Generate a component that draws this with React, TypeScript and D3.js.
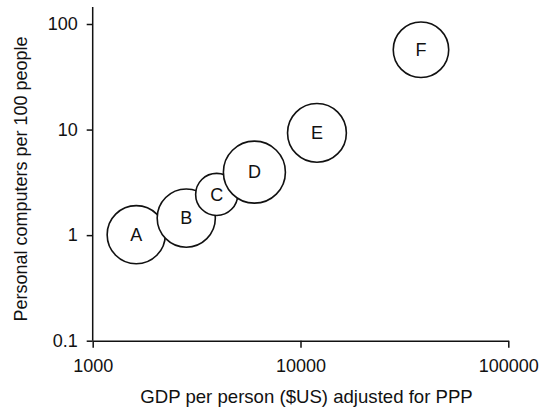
import { useEffect, useRef } from 'react'
import * as d3 from 'd3'

const labels = ['A', 'B', 'C', 'D', 'E', 'F']
const gdp = [1620, 2820, 3950, 6000, 12000, 38000]
const computers = [1.01, 1.45, 2.43, 3.95, 9.3, 57]
const sizes = [88, 88, 46, 100, 90, 80]

const xTicks = [1000, 10000, 100000]
const yTicks = [0.1, 1, 10, 100]

export default function App() {
  const ref = useRef<SVGSVGElement>(null)

  useEffect(() => {
    if (!ref.current) return
    const svg = d3.select(ref.current)
    svg.selectAll('*').remove()

    const font = 'Liberation Sans, Arial, sans-serif'

    // scales
    const x = d3.scaleLog().domain([1000, 100000]).range([92.7, 508.3])
    const y = d3.scaleLog().domain([0.1, 100]).range([340.7, 24])
    const r = d3.scaleSqrt().domain([0, 100]).range([0, 31])

    // bubbles, drawn in order so later ones sit on top
    const g = svg.append('g')
    labels.forEach((lab, i) => {
      g.append('circle')
        .attr('cx', x(gdp[i]))
        .attr('cy', y(computers[i]))
        .attr('r', r(sizes[i]))
        .attr('fill', '#fff')
        .attr('stroke', '#111')
        .attr('stroke-width', 1.6)
      g.append('text')
        .attr('x', x(gdp[i]))
        .attr('y', y(computers[i]))
        .attr('dy', '0.35em')
        .attr('text-anchor', 'middle')
        .style('font-family', font)
        .style('font-size', '18px')
        .attr('fill', '#111')
        .text(lab)
    })

    // Y axis
    const yAxis = svg
      .append('g')
      .attr('transform', `translate(${x(1000)},0)`)
      .call(
        d3.axisLeft(y)
          .tickValues(yTicks)
          .tickFormat((d) => String(d))
          .tickSize(6)
          .tickSizeOuter(0)
          .tickPadding(9)
      )
    yAxis.select('.domain').remove()
    yAxis.selectAll('line').attr('stroke', '#111').attr('stroke-width', 1.5)
    yAxis.selectAll('text')
      .style('font-family', font)
      .style('font-size', '18px')
      .attr('fill', '#111')
    svg.append('line')
      .attr('x1', x(1000)).attr('x2', x(1000))
      .attr('y1', 7).attr('y2', y(0.1))
      .attr('stroke', '#111')
      .attr('stroke-width', 1.5)

    // X axis
    const xAxis = svg
      .append('g')
      .attr('transform', `translate(0,${y(0.1)})`)
      .call(
        d3.axisBottom(x)
          .tickValues(xTicks)
          .tickFormat((d) => String(d))
          .tickSize(7)
          .tickSizeOuter(0)
          .tickPadding(12)
      )
    xAxis.select('.domain').attr('stroke', '#111').attr('stroke-width', 1.5)
    xAxis.selectAll('line').attr('stroke', '#111').attr('stroke-width', 1.5)
    xAxis.selectAll('text')
      .style('font-family', font)
      .style('font-size', '18px')
      .attr('fill', '#111')

    // axis titles
    svg.append('text')
      .attr('x', 306.5)
      .attr('y', 403)
      .attr('text-anchor', 'middle')
      .style('font-family', font)
      .style('font-size', '18.6px')
      .attr('fill', '#111')
      .text('GDP per person ($US) adjusted for PPP')

    svg.append('text')
      .attr('transform', 'translate(26.5,179) rotate(-90)')
      .attr('text-anchor', 'middle')
      .style('font-family', font)
      .style('font-size', '18px')
      .attr('fill', '#111')
      .text('Personal computers per 100 people')
  }, [])

  return (
    <svg
      ref={ref}
      width={548}
      height={412}
      style={{ position: 'absolute', left: 0, top: 0, background: '#fff' }}
    />
  )
}
